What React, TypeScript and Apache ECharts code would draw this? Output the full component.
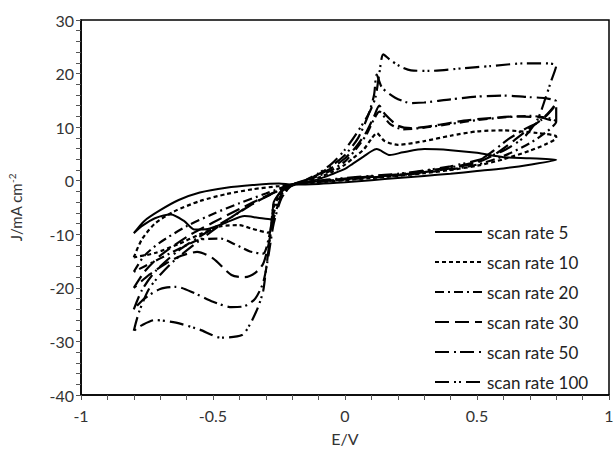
import React, { useEffect, useRef } from "react";
import * as echarts from "echarts";

const seriesNames = ["scan rate 5", "scan rate 10", "scan rate 20", "scan rate 30", "scan rate 50", "scan rate 100"];

const scan5E = [-0.8, -0.76, -0.7, -0.63, -0.55, -0.45, -0.35, -0.25, -0.2, -0.1, 0, 0.1, 0.2, 0.3, 0.4, 0.5, 0.6, 0.7, 0.8,
  0.7, 0.6, 0.5, 0.4, 0.3, 0.22, 0.17, 0.12, 0.1, 0.07, 0.03, 0, -0.05, -0.1, -0.15, -0.2, -0.24, -0.27, -0.28,
  -0.33, -0.38, -0.45, -0.52, -0.57, -0.61, -0.66, -0.72, -0.77, -0.8];
const scan5J = [-9.8, -7.5, -5.5, -3.6, -2.2, -1.3, -0.8, -0.5, -0.7, -0.6, -0.3, 0.1, 0.5, 0.9, 1.3, 1.8, 2.3, 3.0, 3.9,
  4.2, 4.4, 5.2, 5.7, 5.9, 5.3, 4.8, 5.9, 5.5, 4.5, 3.2, 2.2, 1.2, 0.3, -0.3, -0.9, -2, -4, -7.2,
  -6.9, -6.6, -7.8, -9, -9.1, -7.5, -6.3, -7, -8.5, -9.8];

const scan10E = [-0.8, -0.77, -0.72, -0.65, -0.55, -0.45, -0.35, -0.25, -0.2, -0.1, 0, 0.1, 0.2, 0.3, 0.4, 0.5, 0.6, 0.7, 0.76, 0.8,
  0.8, 0.73, 0.6, 0.5, 0.4, 0.3, 0.2, 0.15, 0.12, 0.1, 0.07, 0.03, 0, -0.05, -0.1, -0.15, -0.2, -0.24, -0.27, -0.29,
  -0.35, -0.4, -0.47, -0.55, -0.63, -0.72, -0.8];
const scan10J = [-14.3, -11, -8, -5.8, -3.8, -2.5, -1.6, -1, -0.7, -0.3, 0.1, 0.5, 0.9, 1.4, 2.0, 2.8, 4.0, 5.6, 6.8, 8.0,
  8.3, 8.9, 9.4, 9.2, 8.4, 7.4, 6.7, 7.4, 8.9, 7.8, 5.8, 4.2, 3.0, 1.6, 0.6, -0.1, -0.8, -2.2, -5, -9.7,
  -9.0, -8.3, -8.5, -10, -11.8, -13.5, -14.3];

const scan20E = [-0.8, -0.76, -0.7, -0.6, -0.5, -0.4, -0.3, -0.2, -0.1, 0, 0.1, 0.2, 0.3, 0.4, 0.5, 0.6, 0.7, 0.76, 0.8,
  0.78, 0.7, 0.6, 0.5, 0.4, 0.3, 0.22, 0.17, 0.13, 0.11, 0.08, 0.04, 0, -0.05, -0.1, -0.15, -0.2, -0.24, -0.27, -0.29, -0.31,
  -0.36, -0.42, -0.47, -0.55, -0.62, -0.7, -0.76, -0.8];
const scan20J = [-17, -14, -11.5, -8.5, -6.2, -4.2, -2.4, -0.7, -0.2, 0.2, 0.6, 1.0, 1.5, 2.1, 3.0, 4.6, 7.0, 9.0, 11,
  11.6, 12.1, 11.8, 11.3, 10.6, 9.9, 9.6, 10.6, 12.9, 11.5, 8.5, 5.8, 3.6, 2.0, 0.9, 0, -0.8, -2.5, -6, -11, -13.6,
  -13.2, -11.8, -10.8, -11, -12.5, -14.5, -16, -17];

const scan30E = [-0.8, -0.76, -0.7, -0.6, -0.5, -0.4, -0.3, -0.2, -0.1, 0, 0.1, 0.2, 0.3, 0.4, 0.5, 0.57, 0.64, 0.7, 0.76, 0.8,
  0.8, 0.74, 0.65, 0.55, 0.45, 0.35, 0.25, 0.2, 0.15, 0.13, 0.11, 0.08, 0.04, 0, -0.05, -0.1, -0.15, -0.2, -0.24, -0.27, -0.29, -0.31,
  -0.34, -0.38, -0.43, -0.5, -0.56, -0.62, -0.68, -0.74, -0.8];
const scan30J = [-20, -17, -14, -10.5, -7.8, -5.3, -2.9, -0.8, -0.2, 0.3, 0.7, 1.1, 1.6, 2.3, 3.4, 5, 7.5, 9.8, 12, 14.2,
  11, 11.8, 12, 11.7, 11.2, 10.4, 9.8, 10.3, 12.5, 14, 12, 9, 6.2, 4.2, 2.4, 1.1, 0.1, -0.8, -3, -7, -12, -15.5,
  -17.2, -18, -17.6, -14.5, -13.3, -14, -15.5, -17.5, -20];

const scan50E = [-0.8, -0.77, -0.72, -0.63, -0.53, -0.42, -0.32, -0.2, -0.1, 0, 0.1, 0.2, 0.3, 0.4, 0.5, 0.56, 0.62, 0.68, 0.74, 0.8,
  0.76, 0.7, 0.6, 0.5, 0.4, 0.3, 0.25, 0.19, 0.14, 0.12, 0.11, 0.09, 0.05, 0, -0.05, -0.1, -0.15, -0.2, -0.24, -0.27, -0.29, -0.31, -0.34, -0.38,
  -0.43, -0.5, -0.57, -0.64, -0.7, -0.76, -0.8];
const scan50J = [-24, -20.5, -17, -13, -9.8, -6.5, -3.5, -0.8, -0.1, 0.4, 0.8, 1.2, 1.8, 2.5, 3.6, 5.5, 7.8, 9.6, 11.2, 14.8,
  15.4, 15.6, 15.9, 15.7, 15.2, 14.6, 14.5, 15.5, 17.4, 19.8, 16, 12.5, 8, 4.8, 2.8, 1.2, 0.1, -0.8, -3.2, -8, -14, -19, -22, -23.4,
  -23.6, -22.6, -21, -19.8, -20.2, -22, -24];

const scan100E = [-0.8, -0.78, -0.74, -0.66, -0.56, -0.45, -0.35, -0.2, -0.1, 0, 0.1, 0.2, 0.3, 0.4, 0.5, 0.6, 0.68, 0.73, 0.76, 0.78, 0.8,
  0.76, 0.68, 0.55, 0.45, 0.32, 0.25, 0.21, 0.17, 0.145, 0.13, 0.115, 0.09, 0.05, 0, -0.05, -0.1, -0.15, -0.2, -0.24, -0.27, -0.28, -0.29, -0.3, -0.31, -0.33, -0.36, -0.39,
  -0.47, -0.55, -0.64, -0.72, -0.77, -0.8];
const scan100J = [-28, -24.5, -20, -15.5, -11.5, -7.5, -4.3, -0.8, 0, 0.5, 0.9, 1.3, 1.9, 2.7, 3.8, 5.6, 8.2, 11.5, 15.5, 18.5, 21.5,
  21.9, 21.9, 21.4, 21.0, 20.5, 20.6, 21.3, 22.6, 23.6, 20, 15.5, 12.5, 9.3, 5.8, 3.2, 1.4, 0.1, -0.8, -1.8, -4.4, -8.7, -13, -16.9, -20.6, -23.7, -26.8, -28.8,
  -29.3, -27.8, -26.5, -26, -27, -28];

const curvesE = [scan5E, scan10E, scan20E, scan30E, scan50E, scan100E];
const curvesJ = [scan5J, scan10J, scan20J, scan30J, scan50J, scan100J];

const dashTypes: any[] = [
  "solid",
  [4, 3],
  [9, 4, 2, 4],
  [14, 6],
  [14, 5, 2, 4],
  [14, 5, 2, 3, 2, 5],
];

const xTicks = [-1, -0.5, 0, 0.5, 1];
const yTicks = [-40, -30, -20, -10, 0, 10, 20, 30];

const FONT = "Lato, 'Open Sans', sans-serif";

export default function App() {
  const ref = useRef<HTMLDivElement>(null);
  useEffect(() => {
    const chart = echarts.init(ref.current!, null, { renderer: "svg" });
    const legendX = 435;
    const legendY0 = 232;
    const legendStep = 30;
    const legendGraphics: any[] = [];
    seriesNames.forEach((name, i) => {
      const y = legendY0 + legendStep * i;
      const d = dashTypes[i];
      legendGraphics.push({
        type: "line",
        shape: { x1: legendX, y1: y, x2: legendX + 47, y2: y },
        style: { stroke: "#000", lineWidth: 2.2, lineDash: Array.isArray(d) ? d : null },
      });
      legendGraphics.push({
        type: "text",
        x: legendX + 52,
        y,
        style: { text: name, font: `17px ${FONT}`, fill: "#222", verticalAlign: "middle", align: "left" },
      });
    });
    chart.setOption({
      animation: false,
      backgroundColor: "#fff",
      grid: {
        left: 81,
        right: 5,
        top: 20,
        bottom: 55,
        show: true,
        borderColor: "#000",
        borderWidth: 1.5,
        backgroundColor: "transparent",
        outerBoundsMode: "none",
        containLabel: false,
      },
      graphic: legendGraphics,
      xAxis: {
        type: "value",
        min: xTicks[0],
        max: xTicks[xTicks.length - 1],
        interval: 0.5,
        name: "E/V",
        nameLocation: "middle",
        nameGap: 35,
        nameTextStyle: { fontFamily: FONT, fontSize: 16, color: "#333" },
        axisLine: { show: true, onZero: false, lineStyle: { color: "#000", width: 1.5 } },
        axisTick: { show: true, length: 5, lineStyle: { color: "#555" } },
        minorTick: { show: true, splitNumber: 5, length: 5, lineStyle: { color: "#555" } },
        splitLine: { show: false },
        axisLabel: { fontFamily: FONT, fontSize: 16, color: "#333", margin: 12 },
      },
      yAxis: {
        type: "value",
        min: yTicks[0],
        max: yTicks[yTicks.length - 1],
        interval: 10,
        name: "J/mA cm{s|-2}",
        nameLocation: "middle",
        nameRotate: 90,
        nameGap: 56,
        nameTextStyle: {
          fontFamily: FONT,
          fontSize: 15,
          color: "#333",
          rich: { s: { fontFamily: FONT, fontSize: 10, color: "#333", padding: [0, 0, 8, 0] } },
        },
        axisLine: { show: true, onZero: false, lineStyle: { color: "#000", width: 1.5 } },
        axisTick: { show: true, length: 5, lineStyle: { color: "#555" } },
        minorTick: { show: true, splitNumber: 5, length: 5, lineStyle: { color: "#555" } },
        splitLine: { show: false },
        axisLabel: { fontFamily: FONT, fontSize: 16, color: "#333", margin: 7 },
      },
      series: seriesNames.map((name, i) => ({
        name,
        type: "line",
        showSymbol: false,
        symbol: "none",
        smooth: 0.25,
        color: "#000",
        lineStyle: { color: "#000", width: i === 0 ? 2 : 2.2, type: dashTypes[i] },
        data: curvesE[i].map((e, k) => [e, curvesJ[i][k]]),
      })),
    });
    return () => chart.dispose();
  }, []);
  return <div ref={ref} style={{ position: "absolute", left: 0, top: 0, width: 614, height: 450 }} />;
}
